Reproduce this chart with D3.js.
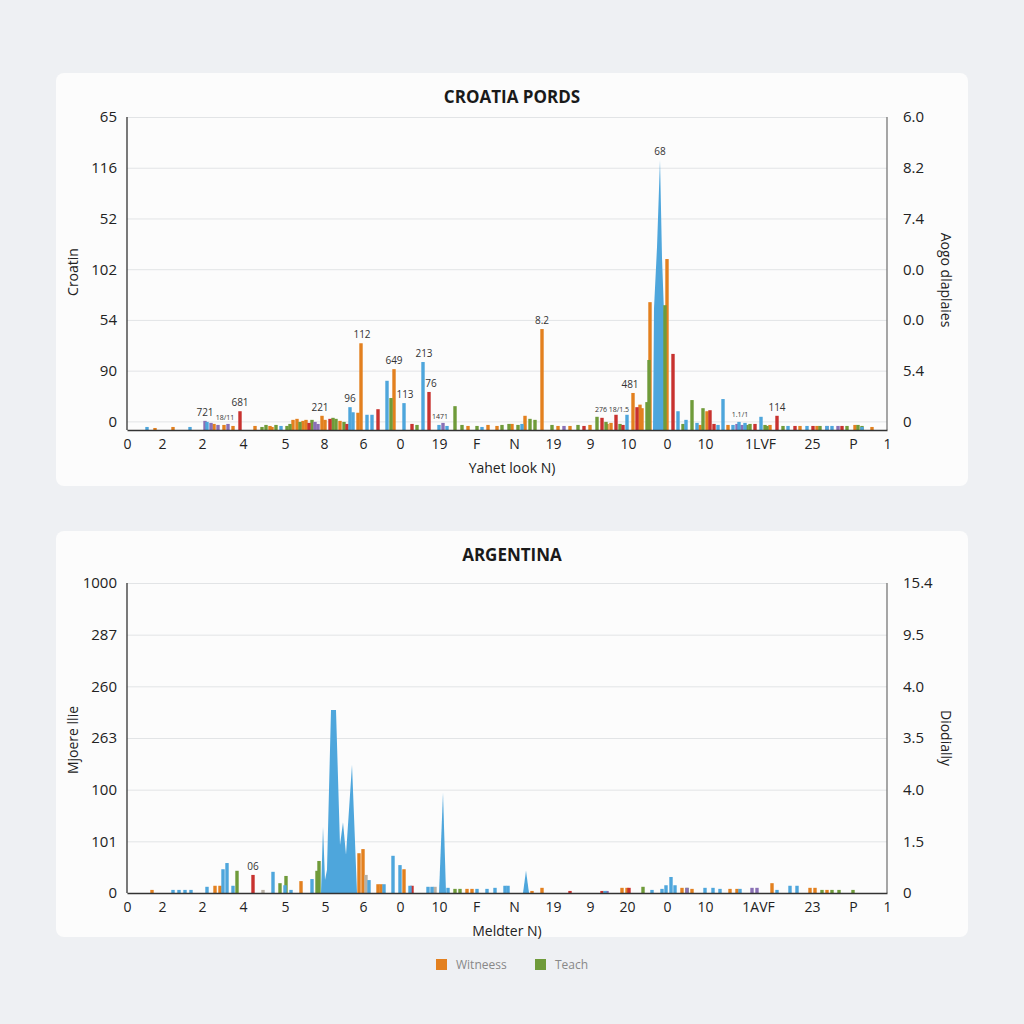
<!DOCTYPE html>
<html><head><meta charset="utf-8">
<script src="https://cdn.jsdelivr.net/npm/d3@7"></script>
<style>
html,body{margin:0;padding:0;background:#eef0f3;}
svg{display:block;}
text{font-family:"Open Sans","DejaVu Sans",sans-serif;}
</style></head>
<body>
<svg id="c" width="1024" height="1024"></svg>
<script>
// ---------- DATA (x = slot along the axis 0..760, y = value) ----------
const xLabelsTop = ["0","2","2","4","5","8","6","0","19","F","N","19","9","10","0","10","1LVF","25","P","1"];
const xSlotsTop  = [0,35,75,116,158,197,236,273,312,349,387,426,463,501,540,578,633,685,726,760];
const xLabelsBot = ["0","2","2","4","5","5","6","0","10","F","N","19","9","20","0","10","1AVF","23","P","1"];
const xSlotsBot  = [0,35,75,116,158,198,236,273,312,349,387,426,463,500,540,578,631,685,726,760];

const yLeftTop  = ["0","90","54","102","52","116","65"];
const yRightTop = ["0","5.4","0.0","0.0","7.4","8.2","6.0"];
const yTickTop  = [0.17,1.17,2.17,3.17,4.17,5.17,6.17];
const yLeftBot  = ["0","101","100","263","260","287","1000"];
const yRightBot = ["0","1.5","4.0","3.5","4.0","9.5","15.4"];
const yTickBot  = [0,1,2,3,4,5,6];

// Croatia series
const croBlue = [[20,.06],[63,.06],[80,.16],[154,.08],[223,.45],[226,.35],[240,.3],[245,.3],[260,.97],[277,.53],[296,1.34],[312,.1],[320,.08],[355,.06],[395,.12],[500,.3],[551,.37],[559,.2],[570,.14],[591,.1],[596,.61],[606,.1],[612,.16],[618,.14],[634,.26],[661,.08],[680,.08],[700,.08],[705,.08],[735,.06]];
const croOrange = [[28,.04],[46,.06],[87,.12],[97,.1],[106,.08],[128,.08],[143,.08],[145,.06],[166,.2],[170,.22],[176,.18],[179,.2],[195,.28],[198,.2],[213,.18],[231,.34],[234,1.71],[267,1.2],[341,.08],[361,.1],[370,.08],[385,.12],[398,.28],[415,1.99],[431,.08],[443,.08],[463,.1],[480,.12],[484,.14],[506,.73],[513,.5],[515,.43],[523,2.52],[540,3.37],[573,.1],[580,.37],[601,.1],[643,.1],[673,.08],[690,.08],[728,.1],[745,.06]];
const croGreen = [[135,.06],[139,.1],[149,.1],[160,.08],[163,.12],[173,.16],[185,.2],[206,.24],[209,.22],[217,.16],[264,.63],[290,.1],[328,.47],[335,.1],[350,.08],[375,.1],[382,.12],[391,.1],[403,.22],[408,.2],[425,.1],[451,.1],[470,.26],[479,.16],[493,.12],[520,.55],[522,1.38],[538,2.46],[556,.12],[565,.59],[576,.43],[620,.1],[623,.12],[638,.1],[640,.08],[656,.08],[693,.08],[720,.08],[731,.1],[735,.08]];
const croRed = [[113,.37],[182,.14],[203,.22],[220,.12],[251,.41],[285,.12],[302,.75],[457,.08],[475,.24],[489,.3],[496,.1],[510,.45],[546,1.5],[583,.39],[587,.12],[628,.12],[650,.28],[668,.08],[686,.08],[715,.08]];
const croPurple = [[78,.18],[84,.14],[91,.1],[101,.12],[188,.16],[191,.12],[316,.14],[437,.08],[610,.12],[615,.1],[700,.08],[711,.08]];
const croSpike = [[526,0],[527,2.4],[530,3.6],[533,5.32],[535,3.4],[537,2.3],[541,0]];
const croNotes = [["721",78,.18,10],["18/11",98,.1,7],["681",113,.37,10],["221",193,.28,10],["96",223,.45,10],["112",235,1.71,10],["649",267,1.2,10],["113",278,.53,10],["213",297,1.34,10],["76",304,.75,10],["1471",313,.12,7],["8.2",415,1.99,10],["276 18/1.5",485,.26,7],["481",503,.73,10],["68",533,5.32,10],["1.1/1",613,.16,7],["114",650,.28,10]];

// Argentina series
const argBlue = [[46,.06],[52,.06],[58,.06],[64,.06],[80,.12],[96,.46],[100,.58],[106,.14],[146,.41],[158,.15],[164,.06],[185,.27],[242,.25],[257,.17],[266,.72],[273,.54],[283,.14],[301,.12],[305,.12],[321,.1],[350,.08],[360,.08],[368,.1],[378,.14],[381,.14],[478,.04],[525,.06],[535,.08],[539,.15],[544,.31],[548,.15],[578,.1],[586,.1],[593,.08],[613,.08],[650,.06],[663,.14],[670,.14]];
const argOrange = [[25,.06],[88,.14],[93,.14],[174,.23],[232,.77],[236,.85],[251,.17],[254,.17],[277,.46],[340,.08],[345,.08],[405,.04],[415,.1],[495,.1],[500,.1],[555,.1],[565,.08],[603,.08],[610,.08],[645,.19],[683,.1],[688,.1],[700,.06]];
const argGreen = [[110,.43],[153,.19],[159,.33],[190,.43],[192,.62],[328,.08],[333,.08],[516,.12],[560,.1],[695,.06],[705,.06],[712,.06],[726,.06]];
const argRed = [[126,.35],[285,.14],[443,.04],[475,.04],[502,.1]];
const argPurple = [[480,.04],[560,.1],[625,.1],[630,.1]];
const argGrey = [[136,.06],[239,.35],[308,.12]];
const argSpikes = [
  [[194,0],[196,1.28],[198,.25],[200,.45],[204,3.54],[209,3.54],[213,.93],[216,1.37],[219,.74],[225,2.48],[230,0]],
  [[312,0],[316,1.94],[319,0]],
  [[396,0],[399,.43],[402,0]]
];
const argNotes = [["06",126,.35,10]];

// ---------- DRAW ----------
const C = {blue:"#4ea6dc", orange:"#e3801f", green:"#6f9b3a", red:"#c8322f", purple:"#8a70b5", grey:"#b9b1a4"};
const svg = d3.select("#c");

function panel(o){
  const g = svg.append("g");
  g.append("rect").attr("x",56).attr("y",o.cardY).attr("width",912).attr("height",o.cardH)
    .attr("rx",8).attr("fill","#fcfcfc");
  const x = d3.scaleLinear().domain([0,760]).range([127,887]);
  const y = d3.scaleLinear().domain(o.yDom).range([o.base,o.top]);

  g.append("text").attr("x",512).attr("y",o.cardY+30).attr("text-anchor","middle")
    .attr("font-size",17).attr("font-weight",700).attr("fill","#1a1a1a").text(o.title);

  g.append("g").attr("transform","translate(127,0)")
    .call(d3.axisLeft(y).tickValues(o.yTicks).tickSize(-760).tickFormat(""))
    .call(s=>{s.select(".domain").remove(); s.selectAll("line").attr("stroke","#e2e4e6");});
  g.append("g").attr("transform","translate(127,0)")
    .call(d3.axisLeft(y).tickValues(o.yTicks).tickSize(0).tickPadding(10).tickFormat((d,i)=>o.left[i]))
    .call(s=>{s.select(".domain").remove(); s.selectAll("text").attr("font-size",15).attr("fill","#222").attr("font-family","Open Sans");});
  g.append("g").attr("transform","translate(887,0)")
    .call(d3.axisRight(y).tickValues(o.yTicks).tickSize(0).tickPadding(16).tickFormat((d,i)=>o.right[i]))
    .call(s=>{s.select(".domain").remove(); s.selectAll("text").attr("font-size",15).attr("fill","#222").attr("font-family","Open Sans");});

  const area = d3.area().x(d=>x(d[0])).y0(y(0)).y1(d=>y(d[1]));
  g.selectAll("path.sp").data(o.spikes).join("path").attr("class","sp")
    .attr("d",area).attr("fill",C.blue);

  const bw = 3.4;
  o.series.forEach(([arr,col])=>{
    g.append("g").selectAll("rect").data(arr).join("rect")
      .attr("x",d=>x(d[0])-bw/2).attr("y",d=>y(d[1]))
      .attr("width",bw).attr("height",d=>y(0)-y(d[1])).attr("fill",col);
  });

  g.selectAll("text.nt").data(o.notes).join("text").attr("class","nt")
    .attr("x",d=>x(d[1])).attr("y",d=>y(d[2])-5).attr("text-anchor","middle")
    .attr("font-size",d=>d[3]).attr("fill","#333").text(d=>d[0]);

  g.append("line").attr("x1",127).attr("x2",127).attr("y1",o.top).attr("y2",o.base).attr("stroke","#333").attr("stroke-width",1.3);
  g.append("line").attr("x1",887).attr("x2",887).attr("y1",o.top).attr("y2",o.base).attr("stroke","#777").attr("stroke-width",1.3);
  g.append("g").attr("transform",`translate(0,${o.base})`)
    .call(d3.axisBottom(x).tickValues(o.xSlots).tickSize(0).tickPadding(9).tickFormat((d,i)=>o.xLabels[i]))
    .call(s=>{s.select(".domain").attr("stroke","#333").attr("stroke-width",1.3);
      s.selectAll("text").attr("font-size",14).attr("fill","#222").attr("font-family","Open Sans");});

  g.append("text").attr("x",o.xtX).attr("y",o.base+43).attr("text-anchor","middle")
    .attr("font-size",14).attr("fill","#222").text(o.xTitle);
  g.append("text").attr("transform",`translate(78,${o.ltY}) rotate(-90)`).attr("text-anchor","middle")
    .attr("font-size",14).attr("fill","#222").text(o.lTitle);
  g.append("text").attr("transform",`translate(941,${o.rtY}) rotate(90)`).attr("text-anchor","middle")
    .attr("font-size",14).attr("fill","#222").text(o.rTitle);
}

panel({cardY:73,cardH:413,title:"CROATIA PORDS",top:117,base:430,yDom:[0,6.17],yTicks:yTickTop,
  left:yLeftTop,right:yRightTop,xSlots:xSlotsTop,xLabels:xLabelsTop,
  series:[[croOrange,C.orange],[croGreen,C.green],[croRed,C.red],[croPurple,C.purple],[croBlue,C.blue]],
  spikes:[croSpike],notes:croNotes,xTitle:"Yahet look N)",xtX:512,lTitle:"Croatin",ltY:272,rTitle:"Aogo dlaplaies",rtY:280});

panel({cardY:531,cardH:406,title:"ARGENTINA",top:583,base:893,yDom:[0,6],yTicks:yTickBot,
  left:yLeftBot,right:yRightBot,xSlots:xSlotsBot,xLabels:xLabelsBot,
  series:[[argOrange,C.orange],[argGreen,C.green],[argRed,C.red],[argPurple,C.purple],[argGrey,C.grey],[argBlue,C.blue]],
  spikes:argSpikes,notes:argNotes,xTitle:"Meldter N)",xtX:507,lTitle:"Mjoere llie",ltY:740,rTitle:"Diodially",rtY:738});

const legendItems = [["Witneess",C.orange,436],["Teach",C.green,535]];
const lg = svg.append("g");
lg.selectAll("rect").data(legendItems).join("rect").attr("x",d=>d[2]).attr("y",959)
  .attr("width",11).attr("height",11).attr("fill",d=>d[1]);
lg.selectAll("text").data(legendItems).join("text").attr("x",d=>d[2]+20).attr("y",969)
  .attr("font-size",12).attr("fill","#888").text(d=>d[0]);
</script>
</body></html>
